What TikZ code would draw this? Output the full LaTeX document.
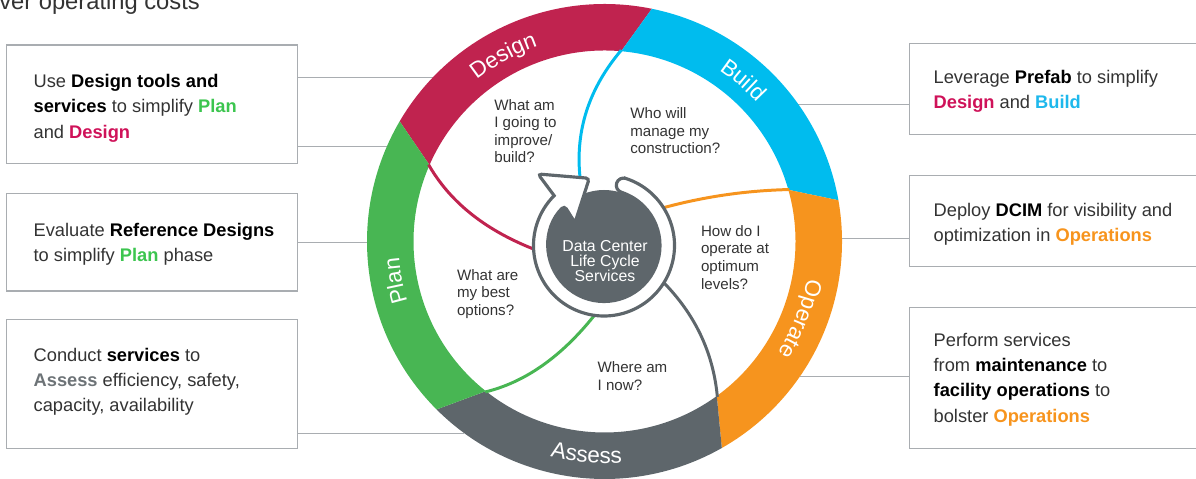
\documentclass[tikz,border=0pt]{standalone}
\usepackage{fontspec}
\setmainfont{Liberation Sans}
\usetikzlibrary{fit,decorations.text}
\definecolor{design}{HTML}{C0234F}
\definecolor{build}{HTML}{00BCEE}
\definecolor{operate}{HTML}{F6941E}
\definecolor{assess}{HTML}{5E666B}
\definecolor{plan}{HTML}{48B653}
\definecolor{plantxt}{HTML}{3CC54F}
\definecolor{designtxt}{HTML}{CF1259}
\definecolor{buildtxt}{HTML}{1EB8EC}
\definecolor{opertxt}{HTML}{F7941D}
\definecolor{assesstxt}{HTML}{6D7377}
\definecolor{ink}{HTML}{333333}
\definecolor{rule}{HTML}{A9ADB1}
\newcommand{\hl}[2]{\textcolor{#1}{\textbf{#2}}}
\newcommand{\bd}[1]{\textcolor{black}{\textbf{#1}}}
\newcommand{\lab}{\color{white}\fontsize{12.8}{12.8}\selectfont}

\begin{document}
\begin{tikzpicture}[x=0.02cm,y=0.02cm,
    box/.style={draw=rule, line width=0.7pt, inner sep=0pt},
    boxtext/.style={anchor=north west, inner sep=0pt, align=left, text=ink, font=\fontsize{10.4}{14.4}\selectfont},
    ask/.style={anchor=north west, inner sep=0pt, align=left, text=ink, font=\fontsize{8.6}{10}\selectfont},
    link/.style={draw=rule, line width=0.6pt},
    spoke/.style={line width=1.7pt}]
    \useasboundingbox (0,0) rectangle (1196,479);
    \node[anchor=base west, inner sep=0pt, text=ink, font=\fontsize{13.5}{16}\selectfont] (title) at (-1,469.7) {ver operating costs};
    % side boxes
    \node[box, fit={(6.7,315.7) (297.3,434)}] (b1) {};
    \node[box, fit={(6.7,188) (297.3,285.7)}] (b2) {};
    \node[box, fit={(6.7,30.7) (297.3,159.7)}] (b3) {};
    \node[box, fit={(909.3,344.7) (1210,435.7)}] (b4) {};
    \node[box, fit={(909.3,212.3) (1210,303.3)}] (b5) {};
    \node[box, fit={(909.3,30.7) (1210,171.7)}] (b6) {};
    \node[boxtext] (t1) at (33.3,404.9) {Use \bd{Design tools and}\\\bd{services} to simplify \hl{plantxt}{Plan}\\and \hl{designtxt}{Design}};
    \node[boxtext] (t2) at (33.3,256.5) {Evaluate \bd{Reference Designs}\\to simplify \hl{plantxt}{Plan} phase};
    \node[boxtext] (t3) at (33.3,131.2) {Conduct \bd{services} to\\\hl{assesstxt}{Assess} efficiency, safety,\\capacity, availability};
    \node[boxtext] (t4) at (933.3,409.5) {Leverage \bd{Prefab} to simplify\\\hl{designtxt}{Design} and \hl{buildtxt}{Build}};
    \node[boxtext] (t5) at (933.3,276.2) {Deploy \bd{DCIM} for visibility and\\optimization in \hl{opertxt}{Operations}};
    \node[boxtext] (t6) at (933.3,146.2) {Perform services\\from \bd{maintenance} to\\\bd{facility operations} to\\bolster \hl{opertxt}{Operations}};
    % wheel
    \begin{scope}[shift={(604.5,237.5)}]
        \coordinate (l1) at ({180-asin(164.2/237.5)}:237.5);
        \coordinate (l2) at ({180-asin(94.8/237.5)}:237.5);
        \coordinate (l3) at ({180+asin(0.8/237.5)}:237.5);
        \coordinate (l4) at ({180+asin(191.8/237.5)}:237.5);
        \coordinate (r1) at ({asin(137.2/237.5)}:237.5);
        \coordinate (r2) at ({asin(3.2/237.5)}:237.5);
        \coordinate (r3) at ({-asin(135.2/237.5)}:237.5);
    \end{scope}
    \draw[link] (b1.east |- l1) -- (l1);
    \draw[link] (b1.east |- l2) -- (l2);
    \draw[link] (b2.east |- l3) -- (l3);
    \draw[link] (b3.east |- l4) -- (l4);
    \draw[link] (b4.west |- r1) -- (r1);
    \draw[link] (b5.west |- r2) -- (r2);
    \draw[link] (b6.west |- r3) -- (r3);
    \begin{scope}[shift={(604.5,237.5)}]
        \foreach \col/\a/\b/\c/\d in {design/149.6/78.5/85/156.4, build/78.5/10/15.7/85, operate/10/-60.4/-54/15.7, assess/-60.4/-135/-128.4/-54, plan/-135/-210.4/-203.6/-128.4}
            \fill[\col] (\a:237.5) arc[start angle=\a, end angle=\b, radius=237.5] -- (\c:191) arc[start angle=\c, end angle=\d, radius=191] -- cycle;
        \draw[spoke, design] (156.4:192) .. controls (-155.1,40.4) and (-121,12.6) .. (-72.8,-6.8) -- (-64.5,-10.2);
        \draw[spoke, build] (85:192) .. controls (-15.6,153) and (-29.3,111) .. (-24.5,64.2) -- (-23.7,56);
        \draw[spoke, operate] (15.7:192) .. controls (142.8,51) and (101.6,45.2) .. (60.5,34.2) -- (52.8,32.1);
        \draw[spoke, assess] (-54:192) .. controls (108.9,-113) and (92.2,-76.2) .. (62.2,-44.2) -- (56.7,-38.4);
        \draw[spoke, plan] (-128.4:192) .. controls (-80,-140.9) and (-44.2,-116.1) .. (-11.2,-75.2) -- (-6.2,-69);
        \path[decorate, decoration={text along path, text align=center, text={|\lab|Design}}] (148.6:206) arc[start angle=148.6, end angle=88.6, radius=206];
        \path[decorate, decoration={text along path, text align=center, text={|\lab|Build}}] (79.3:206) arc[start angle=79.3, end angle=19.3, radius=206];
        \path[decorate, decoration={text along path, text align=center, text={|\lab|Operate}}] (13.5:206) arc[start angle=13.5, end angle=-56.5, radius=206];
        \path[decorate, decoration={text along path, text align=center, text={|\lab|Assess}}] (-124.8:222) arc[start angle=-124.8, end angle=-64.8, radius=222];
        \path[decorate, decoration={text along path, text align=center, text={|\lab|Plan}}] (220.7:206) arc[start angle=220.7, end angle=160.7, radius=206];
    \end{scope}
    % centre disk and circular arrow
    \begin{scope}[shift={(604,233.5)}]
        \fill[assess] (0,0) circle[radius=55.5];
        \filldraw[fill=white, draw=assess, line width=1.8pt]
            (72:70.5) arc[start angle=72, end angle=-225, radius=70.5]
            [rounded corners=2] -- (-66,71.5) -- (-14.7,67.2) -- (-29,22.8) -- (135:56) [sharp corners]
            arc[start angle=-225, end angle=72, radius=56] arc[start angle=252, end angle=72, radius=7.25] -- cycle;
    \end{scope}
    \node[align=center, inner sep=0pt, text=white, font=\fontsize{9}{8.5}\selectfont] (core) at (605,218) {Data Center\\Life Cycle\\Services};
    \node[ask] (q1) at (494,380) {What am\\I going to\\improve/\\build?};
    \node[ask] (q2) at (630,371.7) {Who will\\manage my\\construction?};
    \node[ask] (q3) at (700.7,254) {How do I\\operate at\\optimum\\levels?};
    \node[ask] (q4) at (456.7,210) {What are\\my best\\options?};
    \node[ask] (q5) at (597.3,117.3) {Where am\\I now?};
\end{tikzpicture}
\end{document}
